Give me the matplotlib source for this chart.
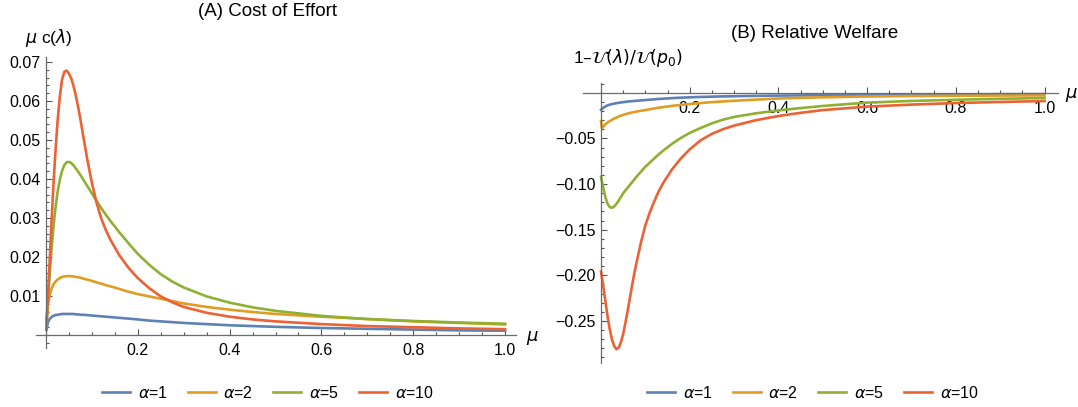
import matplotlib
matplotlib.use("Agg")
from matplotlib import pyplot as plt
from matplotlib.ticker import FixedLocator, MultipleLocator, FuncFormatter

plt.rcParams["font.family"] = ["Liberation Sans", "DejaVu Sans"]
plt.rcParams["mathtext.fontset"] = "dejavusans"

COLORS = ["#5E81B5", "#E19C24", "#8FB032", "#EB6235"]
ALPHAS = [1, 2, 5, 10]

# (A) cost of effort, mu * c(lambda)
mu_a = [0.001, 0.004, 0.008, 0.012, 0.016, 0.02, 0.025, 0.03, 0.035, 0.04,
        0.045, 0.05, 0.055, 0.06, 0.065, 0.07, 0.075, 0.08, 0.09, 0.1,
        0.11, 0.12, 0.13, 0.14, 0.16, 0.18, 0.2, 0.225, 0.25, 0.275,
        0.3, 0.35, 0.4, 0.45, 0.5, 0.6, 0.7, 0.8, 0.9, 1.0]
cost_a1 = [0.0013, 0.0032, 0.0041, 0.0046, 0.0049, 0.0051, 0.0052, 0.0053, 0.0054, 0.0054,
           0.0054, 0.0054, 0.0054, 0.0054, 0.0053, 0.0053, 0.0052, 0.0052, 0.0051, 0.0050,
           0.0049, 0.0048, 0.0047, 0.0046, 0.0044, 0.0042, 0.0040, 0.0037, 0.0035, 0.0033,
           0.0031, 0.0028, 0.0025, 0.0023, 0.0021, 0.0018, 0.0016, 0.0014, 0.0012, 0.0011]
cost_a2 = [0.0040, 0.0078, 0.0102, 0.0118, 0.0129, 0.0136, 0.0142, 0.0146, 0.0149, 0.0150,
           0.0151, 0.0151, 0.0151, 0.0150, 0.0149, 0.0148, 0.0147, 0.0145, 0.0142, 0.0139,
           0.0135, 0.0132, 0.0128, 0.0125, 0.0118, 0.0111, 0.0105, 0.0099, 0.0093, 0.0087,
           0.0081, 0.0072, 0.0065, 0.0059, 0.0054, 0.0047, 0.0041, 0.0035, 0.0031, 0.0027]
cost_a5 = [0.0020, 0.0080, 0.0155, 0.0220, 0.0275, 0.0320, 0.0365, 0.0398, 0.0421, 0.0436,
           0.0443, 0.0444, 0.0441, 0.0435, 0.0427, 0.0419, 0.0410, 0.0401, 0.0382, 0.0363,
           0.0344, 0.0326, 0.0309, 0.0293, 0.0263, 0.0235, 0.0208, 0.0180, 0.0156, 0.0137,
           0.0122, 0.0099, 0.0083, 0.0071, 0.0062, 0.0049, 0.0041, 0.0036, 0.0032, 0.0029]
cost_a10 = [0.0020, 0.0095, 0.0190, 0.0290, 0.0380, 0.0460, 0.0545, 0.0610, 0.0655, 0.0675,
            0.0678, 0.0670, 0.0658, 0.0638, 0.0614, 0.0585, 0.0553, 0.0518, 0.0450, 0.0390,
            0.0340, 0.0300, 0.0270, 0.0245, 0.0204, 0.0172, 0.0146, 0.0120, 0.0099, 0.0084,
            0.0072, 0.0057, 0.0047, 0.0040, 0.0035, 0.0028, 0.0023, 0.0020, 0.0017, 0.0015]

# (B) relative welfare, 1 - U(lambda)/U(p0)
mu_b = [0.0, 0.002, 0.005, 0.01, 0.015, 0.02, 0.025, 0.03, 0.035, 0.04,
        0.045, 0.05, 0.055, 0.06, 0.065, 0.07, 0.075, 0.08, 0.09, 0.1,
        0.11, 0.12, 0.13, 0.14, 0.16, 0.18, 0.2, 0.225, 0.25, 0.275,
        0.3, 0.35, 0.4, 0.45, 0.5, 0.6, 0.7, 0.8, 0.9, 1.0]
welf_a1 = [-0.0186, -0.0178, -0.0165, -0.0150, -0.0138, -0.0130, -0.0124, -0.0119, -0.0114, -0.0110,
           -0.0106, -0.0103, -0.0100, -0.0097, -0.0094, -0.0092, -0.0090, -0.0088, -0.0084, -0.0080,
           -0.0076, -0.0072, -0.0068, -0.0065, -0.0059, -0.0054, -0.0050, -0.0046, -0.0043, -0.0040,
           -0.0038, -0.0034, -0.0031, -0.0029, -0.0027, -0.0023, -0.0020, -0.0018, -0.0016, -0.0015]
welf_a2 = [-0.0310, -0.0385, -0.0370, -0.0345, -0.0325, -0.0310, -0.0295, -0.0282, -0.0271, -0.0260,
           -0.0251, -0.0242, -0.0235, -0.0228, -0.0222, -0.0216, -0.0211, -0.0206, -0.0198, -0.0190,
           -0.0181, -0.0172, -0.0164, -0.0157, -0.0144, -0.0133, -0.0124, -0.0113, -0.0103, -0.0095,
           -0.0088, -0.0075, -0.0063, -0.0056, -0.0050, -0.0041, -0.0036, -0.0033, -0.0031, -0.0029]
welf_a5 = [-0.0920, -0.0970, -0.1040, -0.1150, -0.1220, -0.1255, -0.1260, -0.1245, -0.1215, -0.1180,
           -0.1140, -0.1100, -0.1070, -0.1040, -0.1010, -0.0980, -0.0950, -0.0920, -0.0865, -0.0810,
           -0.0765, -0.0720, -0.0675, -0.0635, -0.0560, -0.0495, -0.0440, -0.0385, -0.0335, -0.0295,
           -0.0265, -0.0225, -0.0194, -0.0168, -0.0145, -0.0108, -0.0090, -0.0077, -0.0066, -0.0058]
welf_a10 = [-0.196, -0.202, -0.212, -0.229, -0.246, -0.260, -0.271, -0.278, -0.281, -0.279,
            -0.273, -0.264, -0.252, -0.239, -0.225, -0.211, -0.198, -0.186, -0.164, -0.145,
            -0.131, -0.119, -0.108, -0.099, -0.084, -0.072, -0.062, -0.052, -0.045, -0.040,
            -0.036, -0.030, -0.0255, -0.022, -0.019, -0.0152, -0.0130, -0.0113, -0.0101, -0.0091]


def style_axes(ax, xlim, ylim, yticks, yminor, yfmt):
    ax.set_xlim(*xlim)
    ax.set_ylim(*ylim)
    for side in ["top", "right"]:
        ax.spines[side].set_visible(False)
    for side in ["left", "bottom"]:
        ax.spines[side].set_position(("data", 0))
        ax.spines[side].set_color("#6b6b6b")
        ax.spines[side].set_linewidth(0.9)
    ax.xaxis.set_major_locator(FixedLocator([0.2, 0.4, 0.6, 0.8, 1.0]))
    ax.xaxis.set_minor_locator(MultipleLocator(0.05))
    ax.yaxis.set_major_locator(FixedLocator(yticks))
    ax.yaxis.set_minor_locator(MultipleLocator(yminor))
    ax.yaxis.set_major_formatter(FuncFormatter(yfmt))
    ax.xaxis.set_major_formatter(FuncFormatter(lambda v, p: f"{v:.1f}"))
    ax.tick_params(which="both", direction="in", color="#555555", width=0.8,
                   labelsize=11.5, labelcolor="black")
    ax.tick_params(which="major", length=4.5)
    ax.tick_params(which="minor", length=2.5)
    ax.tick_params(axis="x", pad=6)
    ax.tick_params(axis="y", pad=4)
    ax.patch.set_alpha(0)


def add_legend(ax, lines, x, y):
    ax.legend(lines, [rf"$\alpha$={a}" for a in ALPHAS], loc="center",
              bbox_to_anchor=(x, y), bbox_transform=fig.transFigure, ncol=4,
              frameon=False, fontsize=11.5, handlelength=1.75, handletextpad=0.5,
              columnspacing=1.25)


fig = plt.figure(figsize=(10.78, 4.07), dpi=100)
W, H = 1078, 407

ax0 = fig.add_axes([0.0333, 0.1452, 0.445, 0.714])
lines0 = []
for vals, col in zip([cost_a1, cost_a2, cost_a5, cost_a10], COLORS):
    ln, = ax0.plot(mu_a, vals, color=col, lw=1.9, solid_joinstyle="round")
    lines0.append(ln)
style_axes(ax0, (-0.022, 1.023), (-0.0033, 0.0712),
           [0.01, 0.02, 0.03, 0.04, 0.05, 0.06, 0.07], 0.002,
           lambda v, p: f"{v:.2f}")

ax1 = fig.add_axes([0.5411, 0.1074, 0.4402, 0.6894])
lines1 = []
for vals, col in zip([welf_a1, welf_a2, welf_a5, welf_a10], COLORS):
    ln, = ax1.plot(mu_b, vals, color=col, lw=1.9, solid_joinstyle="round")
    lines1.append(ln)
style_axes(ax1, (-0.04, 1.03), (-0.2964, 0.011),
           [-0.25, -0.20, -0.15, -0.10, -0.05], 0.01,
           lambda v, p: f"{v:.2f}".replace("-", "\u2212"))

fig.text(268 / W, 1 - 11 / H, "(A) Cost of Effort", ha="center", va="center", fontsize=13.5)
fig.text(815 / W, 1 - 33 / H, "(B) Relative Welfare", ha="center", va="center", fontsize=13.5)
fig.text(49 / W, 1 - 38 / H, r"$\mu$ c($\lambda$)", ha="center", va="center", fontsize=12.5)
fig.text(628 / W, 1 - 58 / H, "1\u2013" + r"$\mathcal{U}(\lambda)/\mathcal{U}(p_0)$",
         ha="center", va="center", fontsize=12.5)
fig.text(532 / W, 1 - 338 / H, r"$\mu$", ha="center", va="center", fontsize=13)
fig.text(1071 / W, 1 - 95 / H, r"$\mu$", ha="center", va="center", fontsize=13)

add_legend(ax0, lines0, 268 / W, 1 - 393 / H)
add_legend(ax1, lines1, 813 / W, 1 - 393 / H)

fig.savefig("out.png", dpi=100)
